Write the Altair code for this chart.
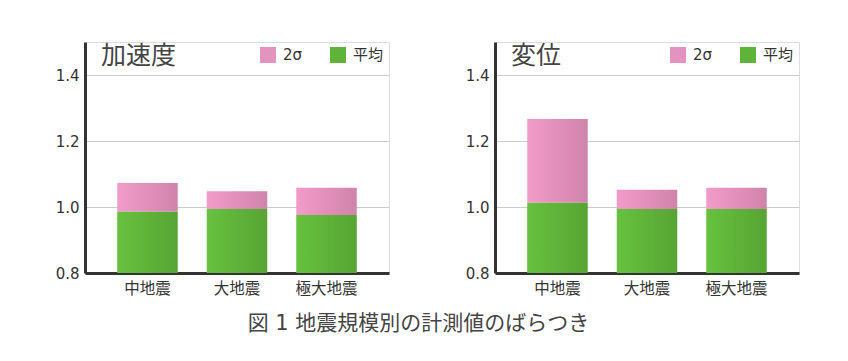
import altair as alt
import pandas as pd

categories = ["中地震", "大地震", "極大地震"]
series_names = ["2σ", "平均"]
base_value = 0.8
accel_mean = [0.986, 0.994, 0.976]
accel_upper = [1.073, 1.048, 1.058]
disp_mean = [1.014, 0.994, 0.994]
disp_upper = [1.267, 1.052, 1.058]
y_ticks = [0.8, 1.0, 1.2, 1.4]
panel_titles = ["加速度", "変位"]
caption = "図 1 地震規模別の計測値のばらつき"

FONT = "DejaVu Sans, Noto Sans CJK JP"

green_grad = alt.Gradient(
    gradient="linear",
    stops=[alt.GradientStop(color="#67c13e", offset=0),
           alt.GradientStop(color="#57a434", offset=1)],
    x1=0, x2=1, y1=0, y2=0)
pink_grad = alt.Gradient(
    gradient="linear",
    stops=[alt.GradientStop(color="#f29bca", offset=0),
           alt.GradientStop(color="#d084aa", offset=1)],
    x1=0, x2=1, y1=0, y2=0)


def make_df(means, uppers):
    rows = []
    for c, m, u in zip(categories, means, uppers):
        rows.append({"cat": c, "series": "平均", "lo": base_value, "hi": m})
        rows.append({"cat": c, "series": "2σ", "lo": m, "hi": u})
    return pd.DataFrame(rows)


def panel(means, uppers, title):
    df = make_df(means, uppers)
    x = alt.X("cat:N", sort=categories,
              scale=alt.Scale(paddingInner=0.324, paddingOuter=0.36),
              axis=alt.Axis(title=None, labelAngle=0, ticks=False,
                            domainColor="#333333", domainWidth=3,
                            labelFontSize=15.5, labelColor="#333333",
                            labelPadding=8, labelFont=FONT))
    y = alt.Y("hi:Q",
              scale=alt.Scale(domain=[0.8, 1.5], zero=False, nice=False),
              axis=alt.Axis(title=None, values=y_ticks, format=".1f",
                            grid=True, gridColor="#cccccc", gridWidth=1,
                            ticks=False, domainColor="#333333", domainWidth=3,
                            labelFontSize=15, labelColor="#333333",
                            labelPadding=6, minExtent=71, labelFont=FONT))
    base = alt.Chart(df)
    legend_layer = base.mark_bar(opacity=0).encode(
        x=x, y=y, y2="lo:Q",
        color=alt.Color("series:N",
                        scale=alt.Scale(domain=series_names,
                                        range=["#e393bf", "#5fb339"]),
                        legend=alt.Legend(title=None, orient="top-right",
                                          direction="horizontal",
                                          symbolType="square", symbolSize=256,
                                          symbolOpacity=1, symbolStrokeWidth=0,
                                          labelFontSize=15, labelColor="#333333",
                                          labelFont=FONT, labelOffset=7,
                                          columnPadding=27, offset=5,
                                          padding=0)))
    green = base.transform_filter(alt.datum.series == "平均").mark_bar(
        fill=green_grad).encode(x=x, y=y, y2="lo:Q")
    pink = base.transform_filter(alt.datum.series == "2σ").mark_bar(
        fill=pink_grad).encode(x=x, y=y, y2="lo:Q")
    ttl = alt.Chart(pd.DataFrame({"t": [title]})).mark_text(
        align="left", baseline="middle", fontSize=25, color="#444444",
        font=FONT).encode(text="t:N", x=alt.value(16), y=alt.value(14))
    return alt.layer(legend_layer, green, pink, ttl).properties(
        width=304, height=231)


left = panel(accel_mean, accel_upper, panel_titles[0])
right = panel(disp_mean, disp_upper, panel_titles[1])

chart = alt.hconcat(left, right, spacing=33).resolve_scale(
    color="independent").resolve_legend(color="independent").properties(
    title=alt.TitleParams(caption, orient="bottom", anchor="middle",
                          fontSize=21, color="#444444", font=FONT,
                          fontWeight="normal", offset=16, dx=12),
    padding={"left": 5, "top": 33, "right": 5, "bottom": 5},
).configure_view(stroke=None).configure(background="white")

chart.save("out.html", embed_options={"renderer": "svg", "actions": False})
